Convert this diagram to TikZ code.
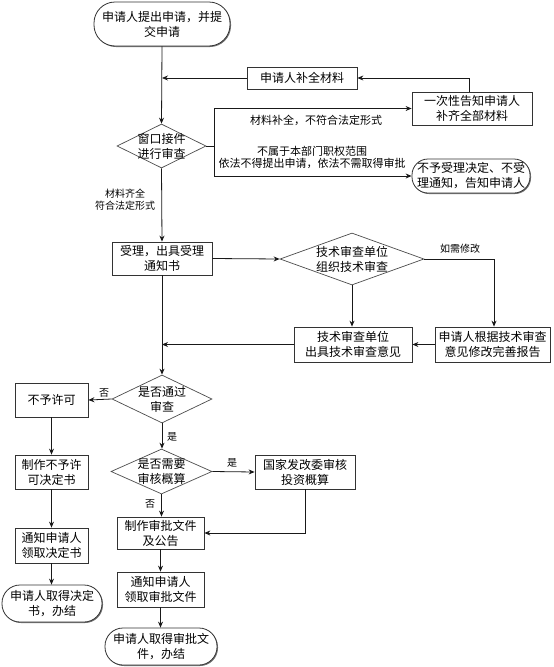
\documentclass[tikz,border=0pt]{standalone}
\usepackage{fontspec}
\newfontfamily\cjk{Noto Sans CJK SC}
\usetikzlibrary{shapes.geometric,arrows.meta,shadows}
\begin{document}
\begin{tikzpicture}[x=1pt,y=-1pt,
  every node/.style={font=\cjk\fontsize{12}{15}\selectfont, align=center, inner sep=0pt},
  shad/.style={drop shadow={shadow xshift=1pt, shadow yshift=-1pt, fill=black!55, opacity=1}},
  box/.style={rectangle, draw=black!80, line width=0.8pt, fill=white, shad},
  term/.style={rectangle, rounded corners=#1, draw=black!80, line width=0.8pt, fill=white, shad},
  dia/.style={diamond, draw=black!70, line width=0.7pt, fill=white},
  lbl/.style={font=\cjk\fontsize{10}{12}\selectfont},
  lblb/.style={font=\cjk\fontsize{11}{12}\selectfont},
  arr/.style={draw=black!90, line width=0.8pt, -{Stealth[length=6pt,width=5pt]}},
  ln/.style={draw=black!90, line width=0.8pt}]
\useasboundingbox (0,0) rectangle (554,667);

% nodes
\node[term=21pt, minimum width=136pt, minimum height=44pt] (start) at (162,24) {申请人提出申请，并提\\交申请};
\node[box, minimum width=110pt, minimum height=22pt] (bq) at (302,78) {申请人补全材料};
\node[box, minimum width=120pt, minimum height=33pt] (yc) at (472,108.5) {一次性告知申请人\\补齐全部材料};
\node[dia, minimum width=89pt, minimum height=44pt, label={[font=\cjk\fontsize{12}{15}\selectfont, align=center]center:窗口接件\\进行审查}] (d1) at (161.5,146) {};
\node[term=16pt, minimum width=118pt, minimum height=34pt] (bs) at (471,176) {不予受理决定、不受\\理通知，告知申请人};
\node[box, minimum width=100pt, minimum height=33pt] (acc) at (162,258.5) {受理，出具受理\\通知书};
\node[dia, minimum width=144pt, minimum height=52pt, label={[font=\cjk\fontsize{12}{15}\selectfont, align=center]center:技术审查单位\\组织技术审查}] (d2) at (352,259) {};
\node[box, minimum width=115pt, minimum height=35pt] (rev) at (492.5,344.5) {申请人根据技术审查\\意见修改完善报告};
\node[box, minimum width=118pt, minimum height=35pt] (op) at (353,344.5) {技术审查单位\\出具技术审查意见};
\node[dia, minimum width=100pt, minimum height=48pt, label={[font=\cjk\fontsize{12}{15}\selectfont, align=center]center:是否通过\\审查}] (d3) at (162,399) {};
\node[box, minimum width=73pt, minimum height=34pt] (np) at (51.5,400) {不予许可};
\node[dia, minimum width=101pt, minimum height=45pt, label={[font=\cjk\fontsize{12}{15}\selectfont, align=center]center:是否需要\\审核概算}] (d4) at (161.5,471.5) {};
\node[box, minimum width=100pt, minimum height=34pt] (nd) at (305,472) {国家发改委审核\\投资概算};
\node[box, minimum width=87pt, minimum height=32pt] (mk) at (160.5,533) {制作审批文件\\及公告};
\node[box, minimum width=87pt, minimum height=35pt] (nt) at (160.5,589.5) {通知申请人\\领取审批文件};
\node[term=18pt, minimum width=112pt, minimum height=37pt] (fin) at (161,646.5) {申请人取得审批文\\件，办结};
\node[box, minimum width=73pt, minimum height=34pt] (md) at (51.5,472) {制作不予许\\可决定书};
\node[box, minimum width=73pt, minimum height=35pt] (nl) at (51.5,545.5) {通知申请人\\领取决定书};
\node[term=18pt, minimum width=100pt, minimum height=37pt] (fin2) at (52,603.5) {申请人取得决定\\书，办结};

% labels
\node[lblb] (l1) at (316,120) {材料补全，不符合法定形式};
\node[lblb] (l2) at (312,157) {不属于本部门职权范围\\依法不得提出申请，依法不需取得审批};
\node[lbl] (l3) at (125,199.5) {材料齐全\\符合法定形式};
\node[lbl] (l4) at (460,249) {如需修改};
\node[lbl] (l5) at (104,393) {否};
\node[lbl] (l6) at (172,437) {是};
\node[lbl] (l7) at (232,463) {是};
\node[lbl] (l8) at (150,504) {否};

% connectors
\coordinate (j1) at (214,146);
\draw[arr] (start.south) -- (d1.north);
\draw[arr] (bq.west) -- (start.south |- bq.west);
\draw[arr] ([xshift=-3pt]yc.north) |- (bq.east);
\draw[ln] (d1.east) -- (j1);
\draw[arr] (j1) |- (yc.west);
\draw[arr] (j1) |- (bs.west);
\draw[arr] (d1.south) -- (acc.north);
\draw[arr] (acc.east) -- (d2.west);
\draw[arr] (d2.east) -| ([xshift=1.5pt]rev.north);
\draw[arr] (d2.south) -- (op.north -| d2.south);
\draw[arr] (rev.west) -- (op.east);
\draw[arr] (op.west) -- (acc.south |- op.west);
\draw[arr] (acc.south) -- (d3.north);
\draw[arr] (d3.west) -- (np.east);
\draw[arr] (d3.south) -- (d4.north -| d3.south);
\draw[arr] (d4.east) -- (nd.west);
\draw[arr] (d4.south) -- (mk.north -| d4.south);
\draw[arr] (nd.south) |- (mk.east);
\draw[arr] (mk.south) -- (nt.north);
\draw[arr] (nt.south) -- (fin.north -| nt.south);
\draw[arr] (np.south) -- (md.north);
\draw[arr] (md.south) -- (nl.north);
\draw[arr] (nl.south) -- (fin2.north -| nl.south);
\end{tikzpicture}
\end{document}
